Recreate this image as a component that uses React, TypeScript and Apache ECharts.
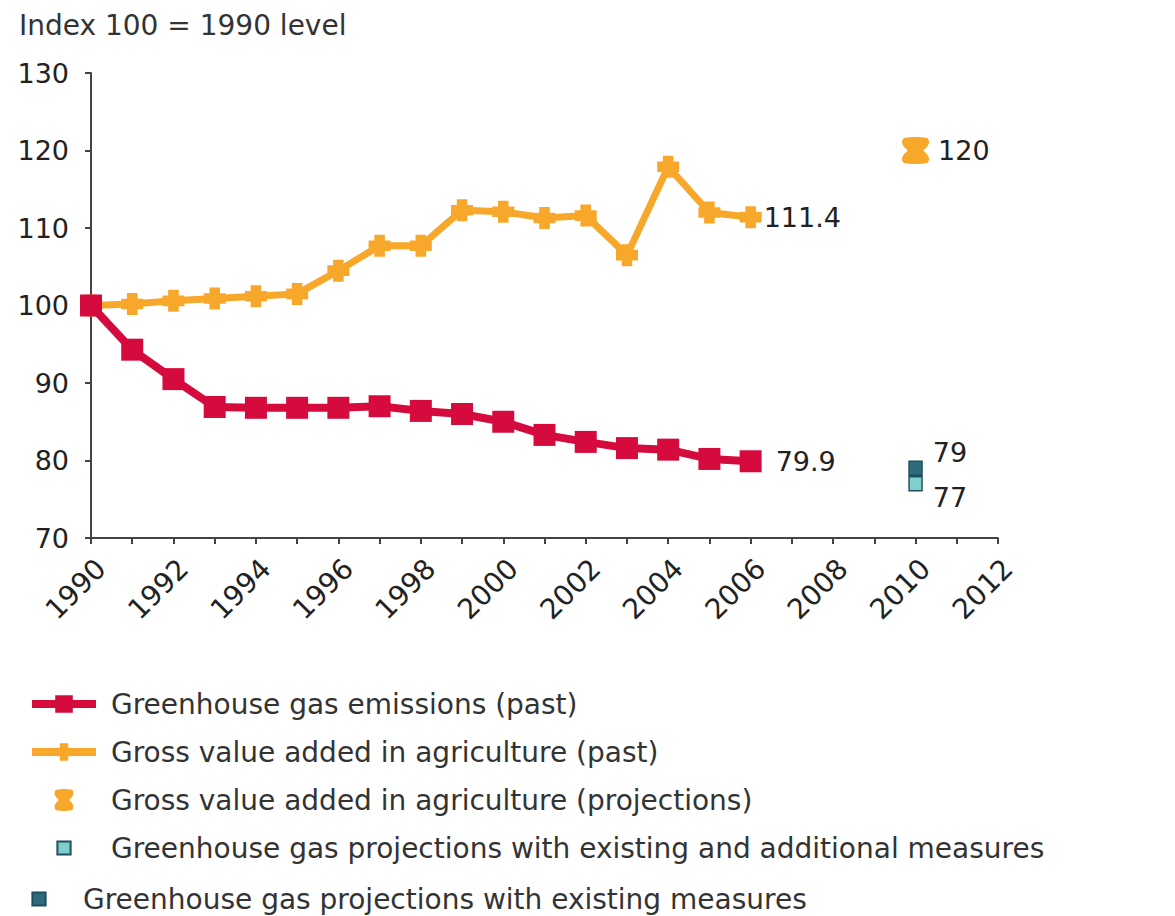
import React, { useEffect, useRef } from "react";
import * as echarts from "echarts";

const years = [1990, 1991, 1992, 1993, 1994, 1995, 1996, 1997, 1998, 1999, 2000, 2001, 2002, 2003, 2004, 2005, 2006];
const ghgPast = [100, 94.3, 90.5, 86.9, 86.8, 86.8, 86.8, 87.0, 86.4, 86.0, 85.0, 83.3, 82.4, 81.6, 81.4, 80.2, 79.9];
const gvaPast = [100, 100.2, 100.6, 100.9, 101.2, 101.5, 104.5, 107.7, 107.7, 112.3, 112.1, 111.3, 111.6, 106.5, 117.9, 112.0, 111.4];
const projYear = 2010;
const gvaProj = 120;
const ghgProjAdditional = 77;
const ghgProjExisting = 79;

const seriesNames = [
  "Greenhouse gas emissions (past)",
  "Gross value added in agriculture (past)",
  "Gross value added in agriculture (projections)",
  "Greenhouse gas projections with existing and additional measures",
  "Greenhouse gas projections with existing measures",
];

const RED = "#d50b3e";
const ORANGE = "#f7a82a";
const TEAL_DARK = "#2f6b7c";
const TEAL_LIGHT = "#7fd0cc";
const FONT = "DejaVu Sans";
const TXT = "#222";

const PLUS = "path://M2.6,0 H7.4 V2.6 H10 V7.4 H7.4 V10 H2.6 V7.4 H0 V2.6 H2.6 Z";
const HOURGLASS =
  "path://M1,0 C4,-0.5 6,-0.5 9,0 C10.2,1.5 9.5,3.2 7.6,5 C9.5,6.8 10.2,8.5 9,10 C6,10.5 4,10.5 1,10 C-0.2,8.5 0.5,6.8 2.4,5 C0.5,3.2 -0.2,1.5 1,0 Z";
// small square icon with invisible padding (moveTo points enlarge the bounding box)
const SMALL_SQUARE = "path://M0,0 M20,20 M4,4 H16 V16 H4 Z";

export default function App() {
  const ref = useRef<HTMLDivElement>(null);
  useEffect(() => {
    if (!ref.current) return;
    const chart = echarts.init(ref.current, null, { renderer: "svg" });
    const lastIdx = years.length - 1;
    const legendText = { fontFamily: FONT, fontSize: 28, color: "#333", lineHeight: 28 };
    chart.setOption({
      animation: false,
      backgroundColor: "#fff",
      textStyle: { fontFamily: FONT },
      title: {
        text: "Index 100 = 1990 level",
        left: 14,
        top: 6,
        textStyle: { fontFamily: FONT, fontSize: 28, fontWeight: "normal", color: "#333" },
      },
      grid: { left: 91, right: 177, top: 73, bottom: 378, containLabel: false },
      xAxis: {
        type: "value",
        min: 1990,
        max: 2012,
        interval: 2,
        splitLine: { show: false },
        axisLine: { show: true, lineStyle: { color: "#444", width: 2 } },
        axisTick: { show: true, length: 6, lineStyle: { color: "#444", width: 2 } },
        minorTick: { show: true, splitNumber: 2, length: 6, lineStyle: { color: "#444", width: 2 } },
        axisLabel: {
          rotate: 45,
          margin: 16,
          verticalAlign: "top",
          fontFamily: FONT,
          fontSize: 28,
          color: TXT,
          formatter: (v: number) => String(v),
        },
      },
      yAxis: {
        type: "value",
        min: 70,
        max: 130,
        interval: 10,
        splitLine: { show: false },
        axisLine: { show: true, lineStyle: { color: "#444", width: 2 } },
        axisTick: { show: true, length: 6, lineStyle: { color: "#444", width: 2 } },
        axisLabel: { margin: 22, fontFamily: FONT, fontSize: 27, color: TXT },
      },
      legend: [
        {
          data: [
            { name: seriesNames[0] },
            { name: seriesNames[1] },
            { name: seriesNames[2] },
            { name: seriesNames[3], icon: SMALL_SQUARE },
          ],
          orient: "vertical",
          left: 28,
          top: 690,
          padding: 0,
          itemWidth: 64,
          itemHeight: 22,
          itemGap: 20,
          lineStyle: { width: 8 },
          textStyle: { ...legendText, padding: [0, 0, 0, 10] },
        },
        {
          data: [{ name: seriesNames[4], icon: SMALL_SQUARE }],
          orient: "vertical",
          left: 27,
          top: 885,
          padding: 0,
          itemWidth: 22,
          itemHeight: 22,
          textStyle: { ...legendText, padding: [0, 0, 0, 28] },
        },
      ],
      series: [
        {
          name: seriesNames[0],
          type: "line",
          data: years.map((y, i) => [y, ghgPast[i]]),
          symbol: "rect",
          symbolSize: 22,
          lineStyle: { color: RED, width: 8 },
          itemStyle: { color: RED },
          z: 3,
          label: {
            show: true,
            position: "right",
            distance: 14,
            fontFamily: FONT,
            fontSize: 27,
            color: TXT,
            formatter: (p: any) => (p.dataIndex === lastIdx ? String(ghgPast[lastIdx]) : ""),
          },
        },
        {
          name: seriesNames[1],
          type: "line",
          data: years.map((y, i) => [y, gvaPast[i]]),
          symbol: PLUS,
          symbolSize: 22,
          lineStyle: { color: ORANGE, width: 7 },
          itemStyle: { color: ORANGE },
          z: 2,
          label: {
            show: true,
            position: "right",
            distance: 2,
            fontFamily: FONT,
            fontSize: 27,
            color: TXT,
            formatter: (p: any) => (p.dataIndex === lastIdx ? String(gvaPast[lastIdx]) : ""),
          },
        },
        {
          name: seriesNames[2],
          type: "scatter",
          data: [[projYear, gvaProj]],
          symbol: HOURGLASS,
          symbolSize: [27, 27],
          itemStyle: { color: ORANGE, opacity: 1 },
          label: {
            show: true,
            position: "right",
            distance: 9,
            fontFamily: FONT,
            fontSize: 27,
            color: TXT,
            formatter: () => String(gvaProj),
          },
        },
        {
          name: seriesNames[3],
          type: "scatter",
          data: [[projYear, ghgProjAdditional]],
          symbol: "rect",
          symbolSize: [13, 14],
          itemStyle: { color: TEAL_LIGHT, borderColor: "#1f4f5c", borderWidth: 1.5, opacity: 1 },
          label: {
            show: true,
            position: "right",
            distance: 10,
            offset: [0, 14],
            fontFamily: FONT,
            fontSize: 27,
            color: TXT,
            formatter: () => String(ghgProjAdditional),
          },
        },
        {
          name: seriesNames[4],
          type: "scatter",
          data: [[projYear, ghgProjExisting]],
          symbol: "rect",
          symbolSize: [13, 14],
          itemStyle: { color: TEAL_DARK, borderColor: "#1f4f5c", borderWidth: 1.5, opacity: 1 },
          label: {
            show: true,
            position: "right",
            distance: 10,
            offset: [0, -16],
            fontFamily: FONT,
            fontSize: 27,
            color: TXT,
            formatter: () => String(ghgProjExisting),
          },
        },
      ],
    });
    return () => chart.dispose();
  }, []);
  return (
    <div
      ref={ref}
      style={{ position: "absolute", left: 0, top: 0, width: 1175, height: 916 }}
    />
  );
}
